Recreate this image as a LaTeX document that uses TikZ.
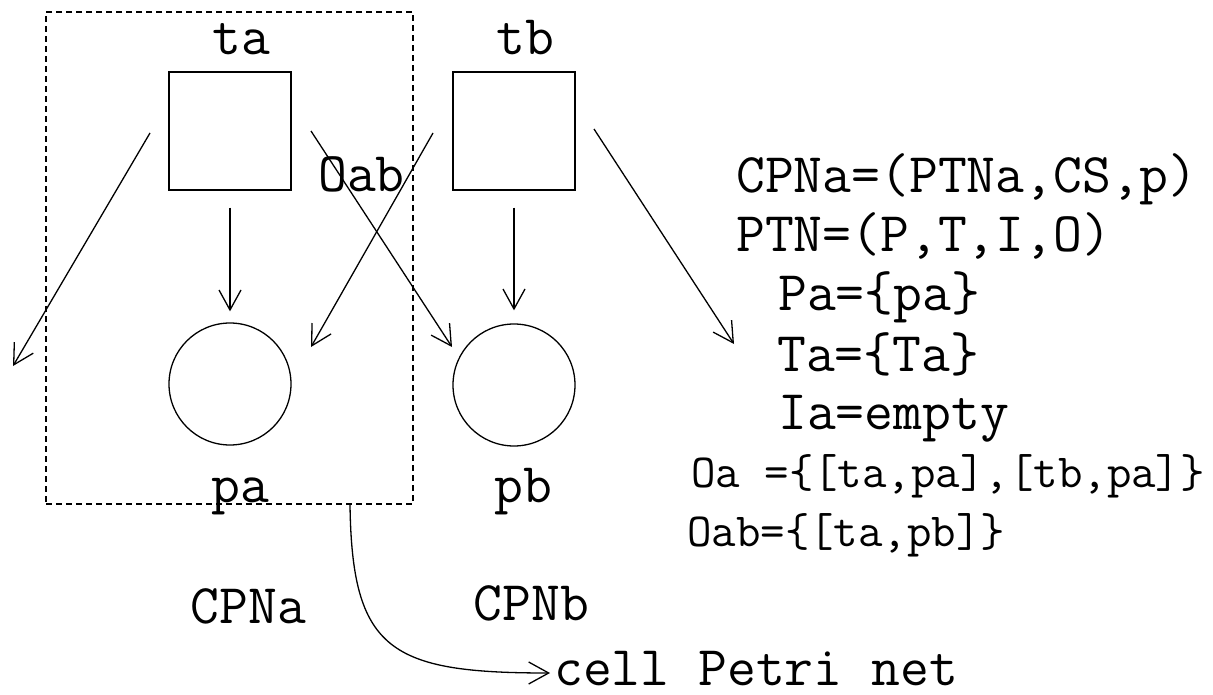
\documentclass[tikz,border=0pt]{standalone}
\usepackage{fontspec}
\usetikzlibrary{arrows.meta,calc}
\tikzset{
  tnode/.style={draw,rectangle,line width=1.3bp,minimum width=122bp,minimum height=118bp,inner sep=0pt},
  pnode/.style={draw,circle,line width=1.3bp,minimum size=122bp,inner sep=0pt},
  flow/.style={line width=1.3bp,-{Straight Barb[length=20bp,width=22bp,line width=1.3bp]}},
  lbl/.style={inner sep=0pt,font=\ttfamily\fontsize{56bp}{60bp}\selectfont},
  lblsmall/.style={inner sep=0pt,font=\ttfamily\fontsize{47.5bp}{50bp}\selectfont},
}
\begin{document}
\begin{tikzpicture}[x=1bp,y=-1bp]
\useasboundingbox (0,0) rectangle (1213,695);
% the cell of net a
\node[draw,dash pattern=on 6bp off 4bp,line width=1.2bp,minimum width=367bp,minimum height=492bp,inner sep=0pt] (cella) at (229.5,258) {};

\node[tnode] (ta) at (230,131) {};
\node[tnode] (tb) at (514,131) {};
\node[pnode] (pa) at (230,384) {};
\node[pnode] (pb) at (514,385) {};

\node[lbl,anchor=base] (tal) at (241,55) {ta};
\node[lbl,anchor=base] (tbl) at (525.5,55) {tb};
\node[lbl,anchor=base] (pal) at (240,502) {pa};
\node[lbl,anchor=base] (pbl) at (523.5,502) {pb};
\node[lbl,anchor=base] (oabl) at (361.5,192) {Oab};
\node[lbl,anchor=base] (cpna) at (248.5,623) {CPNa};
\node[lbl,anchor=base] (cpnb) at (531.5,620) {CPNb};
\node[lbl,anchor=base west] (net) at (554,685) {cell Petri net};

% arcs
\coordinate (outl) at (13,366);
\coordinate (outr) at (734,344);
\draw[flow] ($(ta)+(-80,2)$) -- (outl);
\draw[flow,shorten <=17bp,shorten >=11bp] (ta) -- (pa);
\draw[flow] ($(ta)+(81,0)$) -- ($(pb)+(-62,-38)$);
\draw[flow] ($(tb)+(-81,2)$) -- ($(pa)+(81,-37)$);
\draw[flow,shorten <=17bp,shorten >=13bp] (tb) -- (pb);
\draw[flow] ($(tb)+(80,-2)$) -- (outr);
\draw[flow] ($(cella.south)+(120.5,0)$) .. controls +(2,146) and +(-160,0) .. ($(net.base west)+(-4,-12)$);

% definitions
\node[lbl,anchor=base west] (d1) at (736,193) {CPNa=(PTNa,CS,p)};
\node[lbl,anchor=base west] (d2) at (736,251) {PTN=(P,T,I,O)};
\node[lbl,anchor=base west] (d3) at (778,310) {Pa=\{pa\}};
\node[lbl,anchor=base west] (d4) at (777,371) {Ta=\{Ta\}};
\node[lbl,anchor=base west] (d5) at (778,429) {Ia=empty};
\node[lblsmall,anchor=base west] (d6) at (691,487) {Oa =\{[ta,pa],[tb,pa]\}};
\node[lblsmall,anchor=base west] (d7) at (687,546) {Oab=\{[ta,pb]\}};
\end{tikzpicture}
\end{document}
